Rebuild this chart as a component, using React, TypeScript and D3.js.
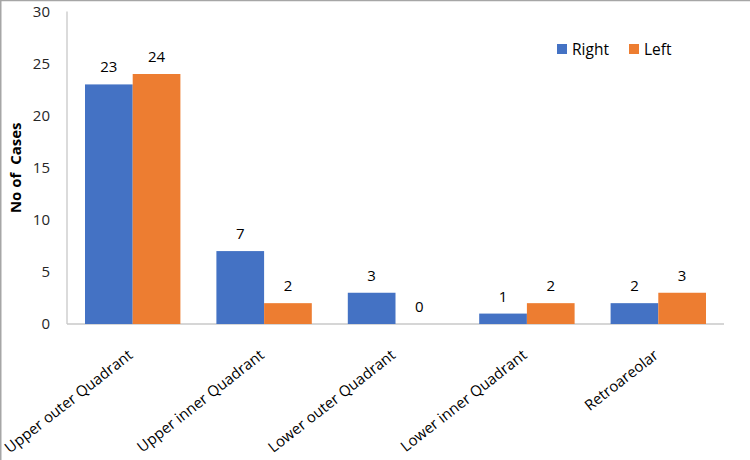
import React from "react";
import * as d3 from "d3";

const categories = [
  "Upper outer Quadrant",
  "Upper inner Quadrant",
  "Lower outer Quadrant",
  "Lower inner Quadrant",
  "Retroareolar",
];
const seriesNames = ["Right", "Left"];
const rightValues = [23, 7, 3, 1, 2];
const leftValues = [24, 2, 0, 2, 3];
const yTicks = [0, 5, 10, 15, 20, 25, 30];
const colors = ["#4472C4", "#ED7D31"];

const W = 750;
const H = 460;
const FONT = "'Open Sans', Lato, sans-serif";

export default function App() {
  const x0 = d3.scaleBand<string>().domain(categories).range([67, 724]).padding(0);
  const inset = 18;
  const x1 = d3
    .scaleBand<string>()
    .domain(seriesNames)
    .range([inset, x0.bandwidth() - inset])
    .padding(0);
  const y = d3.scaleLinear().domain([0, 30]).range([324, 11.5]);
  const series = [rightValues, leftValues];

  return (
    <svg
      width={W}
      height={H}
      style={{ position: "absolute", left: 0, top: 0, background: "#fff" }}
      fontFamily={FONT}
    >
      <line x1={0} x2={W} y1={0.5} y2={0.5} stroke="#a6a6a6" strokeWidth={1.5} />
      <line x1={0.75} x2={0.75} y1={0} y2={H} stroke="#a6a6a6" strokeWidth={1.5} />

      {/* y axis */}
      <line x1={67} x2={67} y1={y(30)} y2={y(0)} stroke="#c8c8c8" strokeWidth={1.3} />
      <line x1={67} x2={724} y1={y(0)} y2={y(0)} stroke="#c8c8c8" strokeWidth={1.3} />
      {yTicks.map((t) => (
        <text
          key={t}
          x={50}
          y={y(t)}
          dy="0.36em"
          textAnchor="end"
          fontSize={15}
          fill="#262626"
        >
          {t}
        </text>
      ))}
      <text
        transform={`translate(21,${(y(0) + y(30)) / 2}) rotate(-90)`}
        textAnchor="middle"
        fontSize={15}
        fontWeight="bold"
        fill="#000"
        style={{ whiteSpace: "pre" }}
      >
        {"No of  Cases"}
      </text>

      {/* bars */}
      {categories.map((c, i) => (
        <g key={c} transform={`translate(${x0(c)},0)`}>
          {seriesNames.map((s, j) => {
            const v = series[j][i];
            const bx = x1(s) as number;
            return (
              <g key={s}>
                <rect
                  x={bx}
                  y={y(v)}
                  width={x1.bandwidth()}
                  height={y(0) - y(v)}
                  fill={colors[j]}
                />
                <text
                  x={bx + x1.bandwidth() / 2}
                  y={y(v) - 12}
                  textAnchor="middle"
                  fontSize={15}
                  fill="#000"
                >
                  {v}
                </text>
              </g>
            );
          })}
        </g>
      ))}

      {/* x labels */}
      {categories.map((c) => {
        const cx = (x0(c) as number) + x0.bandwidth() / 2;
        return (
          <text
            key={c}
            transform={`translate(${cx + 1},${y(0) + 33}) rotate(-38)`}
            textAnchor="end"
            fontSize={15}
            fill="#000"
          >
            {c}
          </text>
        );
      })}

      {/* legend */}
      {seriesNames.map((s, j) => {
        const lx = [557, 629][j];
        return (
          <g key={s}>
            <rect x={lx} y={44} width={10} height={10} fill={colors[j]} />
            <text x={lx + 15} y={54.5} fontSize={15.5} fill="#000">
              {s}
            </text>
          </g>
        );
      })}
    </svg>
  );
}
